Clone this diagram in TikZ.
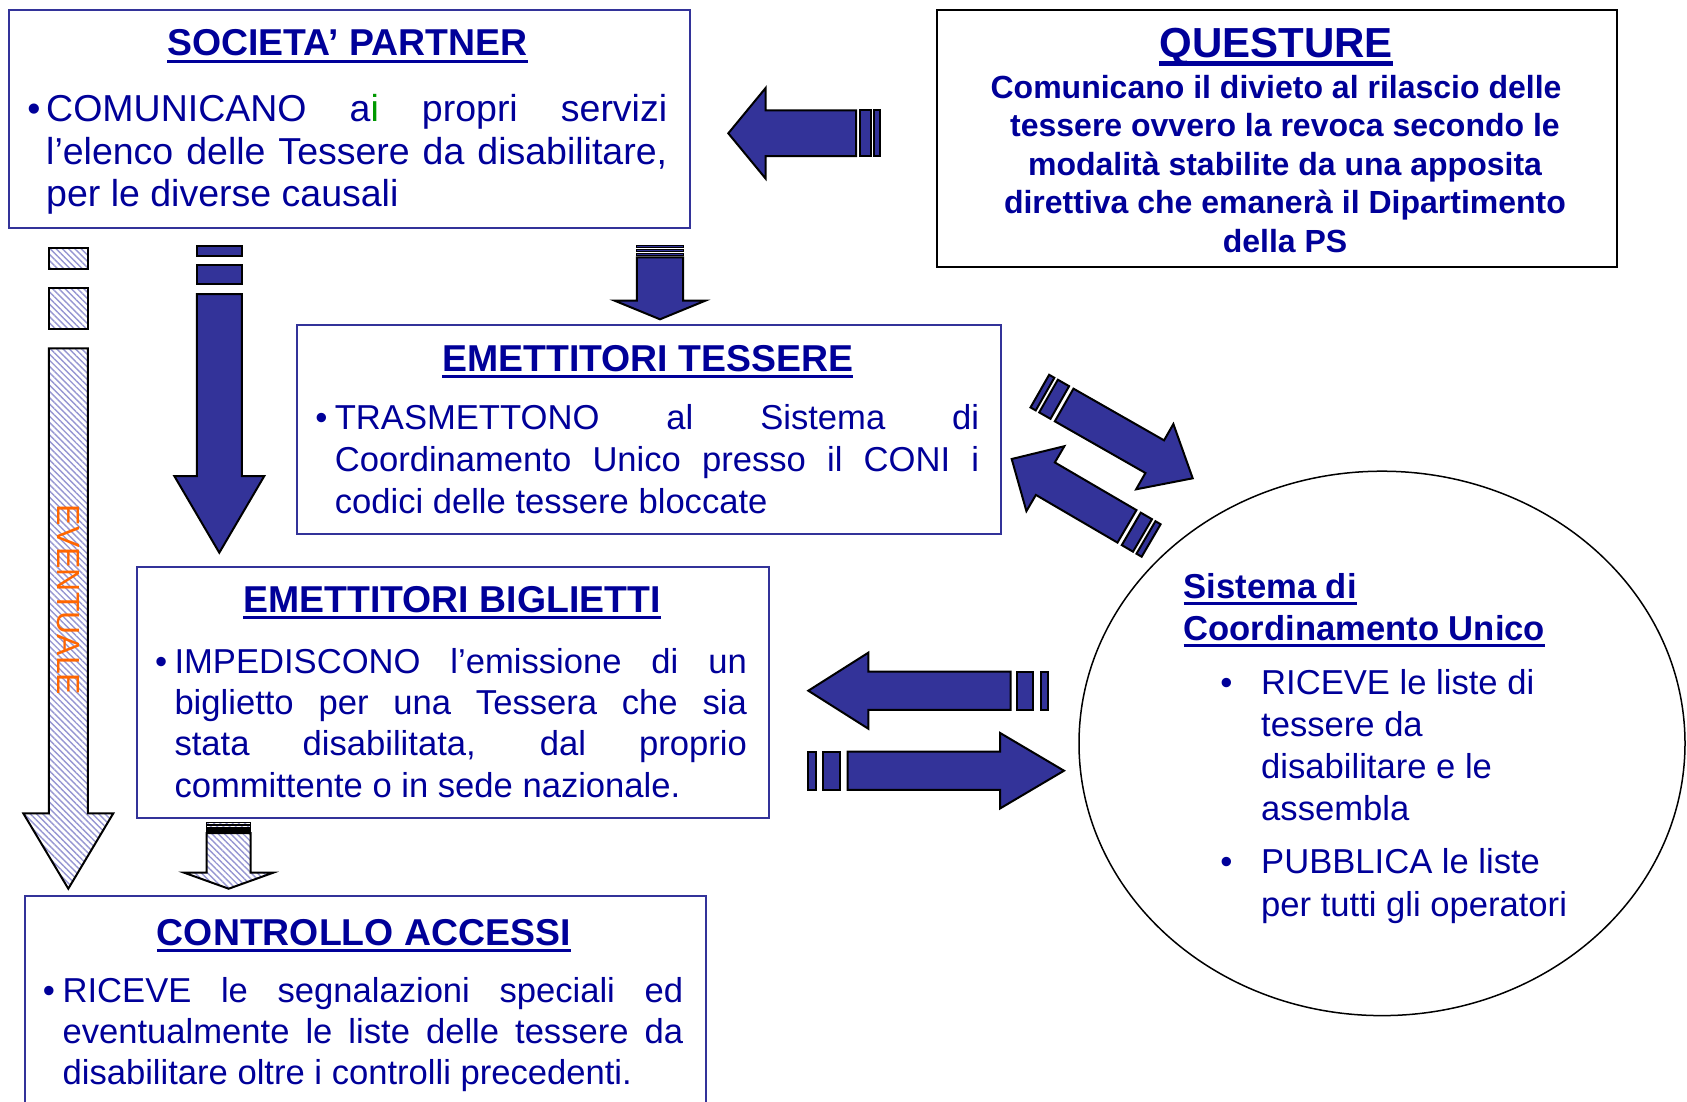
\documentclass[tikz,border=0pt]{standalone}
\usepackage{fontspec}
\setmainfont{Liberation Sans}
\usetikzlibrary{patterns.meta,shapes.geometric}
\definecolor{txt}{RGB}{0,0,153}
\definecolor{boxc}{RGB}{51,51,153}
\definecolor{arrc}{RGB}{51,51,153}
\definecolor{hatchc}{RGB}{150,150,210}
\definecolor{evc}{RGB}{255,102,0}
\definecolor{grn}{RGB}{0,153,0}
\newcommand{\setfs}[2]{\fontsize{#1}{#2}\selectfont}
\newcommand{\blockarrow}[5]{\filldraw[#1] (0,0) -- (-#2,#3) -- (-#2,#4) -- ({-(#2)-(#5)},#4) -- ({-(#2)-(#5)},-#4) -- (-#2,-#4) -- (-#2,-#3) -- cycle;}
\newcommand{\arrstripe}[4]{\filldraw[#1] (-#2,-#4) rectangle ({-(#2)-(#3)},#4);}
\tikzset{
  boxline/.style={draw=boxc, line width=2pt, inner sep=0pt, anchor=north west},
  qbox/.style={draw=black, line width=2pt, inner sep=0pt, anchor=north west},
  solidarr/.style={fill=arrc, draw=black, line width=2pt, line join=miter},
  hatcharr/.style={preaction={fill=white}, pattern={Lines[angle=-45,distance=4.4pt,line width=1.4pt]}, pattern color=hatchc, draw=black, line width=2pt, line join=miter},
  thinstripe/.style={line width=1.2pt},
  ttl/.style={anchor=base, inner sep=0pt, text=txt, font=\bfseries\setfs{37.4}{44}},
  bodyA/.style={anchor=base west, inner sep=0pt, text=txt, font=\setfs{37.5}{45}},
  body/.style={anchor=base west, inner sep=0pt, text=txt, font=\setfs{34.6}{42}},
  qtxt/.style={anchor=base, inner sep=0pt, text=txt, font=\bfseries\setfs{32}{38}},
  bul/.style={anchor=base, inner sep=0pt, text=txt},
  uline/.style={draw=txt, line width=3pt},
}
\begin{document}
\begin{tikzpicture}[x=1pt,y=-1pt]
\useasboundingbox (0,0) rectangle (1687,1101);
\fill[white] (0,0) rectangle (1687,1101);
\clip (0,0) rectangle (1687,1101);

% ---------- boxes ----------
\node[boxline, minimum width=681.5pt, minimum height=218pt] (socbox) at (7.5,8.5) {};
\node[qbox, minimum width=680pt, minimum height=257pt] (quebox) at (936,8.5) {};
\node[boxline, minimum width=703.5pt, minimum height=208.5pt] (tesbox) at (296,324) {};
\node[boxline, minimum width=632.5pt, minimum height=250.5pt] (bigbox) at (135.6,566) {};
\node[boxline, minimum width=681pt, minimum height=230pt] (conbox) at (23.7,895) {};
\node[ellipse, draw=black, line width=1.5pt, minimum width=606pt, minimum height=544.4pt, inner sep=0pt] (sys) at (1382,743.4) {};

% ---------- SOCIETA' PARTNER ----------
\node[ttl] (socT) at (347.5,55) {SOCIETA’ PARTNER};
\draw[uline] ([yshift=-6pt]socT.base west) -- ([yshift=-6pt]socT.base east);
\node[bul, font=\setfs{37.5}{45}] (sb) at (34,121) {•};
\node[bodyA] (s1) at (46,121) {\makebox[621pt][s]{COMUNICANO a\textcolor{grn}{i} propri servizi}};
\node[bodyA] (s2) at (46,164) {\makebox[621pt][s]{l’elenco delle Tessere da disabilitare,}};
\node[bodyA] (s3) at (46,206) {per le diverse causali};

% ---------- QUESTURE ----------
\node[ttl, font=\bfseries\setfs{42}{48}] (queT) at (1276,57) {QUESTURE};
\draw[uline, line width=4.5pt] ([yshift=-6.5pt]queT.base west) -- ([yshift=-6.5pt]queT.base east);
\node[qtxt] (q1) at (1276,98) {Comunicano il divieto al rilascio delle};
\node[qtxt] (q2) at (1285,136.5) {tessere ovvero la revoca secondo le};
\node[qtxt] (q3) at (1285,175) {modalità stabilite da una apposita};
\node[qtxt] (q4) at (1285,213.5) {direttiva che emanerà il Dipartimento};
\node[qtxt] (q5) at (1285,252) {della PS};

% ---------- EMETTITORI TESSERE ----------
\node[ttl] (tesT) at (647.7,371) {EMETTITORI TESSERE};
\draw[uline] ([yshift=-5.5pt]tesT.base west) -- ([yshift=-5.5pt]tesT.base east);
\node[bul, font=\setfs{34.6}{42}] (tb) at (321.5,429.5) {•};
\node[body] (t1) at (334.6,429.5) {\makebox[644.4pt][s]{TRASMETTONO al Sistema di}};
\node[body] (t2) at (334.6,471.5) {\makebox[644.4pt][s]{Coordinamento Unico presso il CONI i}};
\node[body] (t3) at (334.6,513.5) {codici delle tessere bloccate};

% ---------- EMETTITORI BIGLIETTI ----------
\node[ttl] (bigT) at (452,612) {EMETTITORI BIGLIETTI};
\draw[uline] ([yshift=-5.5pt]bigT.base west) -- ([yshift=-5.5pt]bigT.base east);
\node[bul, font=\setfs{34.6}{42}] (bb) at (161.3,673) {•};
\node[body] (b1) at (174.3,673) {\makebox[572.4pt][s]{IMPEDISCONO l’emissione di un}};
\node[body] (b2) at (174.3,714.5) {\makebox[572.4pt][s]{biglietto per una Tessera che sia}};
\node[body] (b3) at (174.3,755.5) {\makebox[572.4pt][s]{stata disabilitata, dal proprio}};
\node[body] (b4) at (174.3,797) {committente o in sede nazionale.};

% ---------- CONTROLLO ACCESSI ----------
\node[ttl] (conT) at (363.7,945) {CONTROLLO ACCESSI};
\draw[uline] ([yshift=-5.5pt]conT.base west) -- ([yshift=-5.5pt]conT.base east);
\node[bul, font=\setfs{34.6}{42}] (cb) at (49,1002) {•};
\node[body] (c1) at (62.4,1002) {\makebox[620.6pt][s]{RICEVE le segnalazioni speciali ed}};
\node[body] (c2) at (62.4,1043.5) {\makebox[620.6pt][s]{eventualmente le liste delle tessere da}};
\node[body] (c3) at (62.4,1084) {disabilitare oltre i controlli precedenti.};

% ---------- Sistema di Coordinamento Unico ----------
\node[ttl, anchor=base west, font=\bfseries\setfs{34.6}{42}] (e1) at (1183.5,598.5) {Sistema di};
\draw[uline] ([yshift=-5pt]e1.base west) -- ([yshift=-5pt]e1.base east);
\node[ttl, anchor=base west, font=\bfseries\setfs{34.6}{42}] (e2) at (1183.5,640.5) {Coordinamento Unico};
\draw[uline] ([yshift=-5pt]e2.base west) -- ([yshift=-5pt]e2.base east);
\node[bul, font=\setfs{34.6}{42}] (eb1) at (1226.5,694.5) {•};
\node[body] (e3) at (1261,694.5) {RICEVE le liste di};
\node[body] (e4) at (1261,736.5) {tessere da};
\node[body] (e5) at (1261,778.5) {disabilitare e le};
\node[body] (e6) at (1261,820.5) {assembla};
\node[bul, font=\setfs{34.6}{42}] (eb2) at (1226.5,873) {•};
\node[body] (e7) at (1261,873) {PUBBLICA le liste};
\node[body] (e8) at (1261,916) {per tutti gli operatori};

% ---------- solid block arrows ----------
% QUESTURE -> SOCIETA'
\begin{scope}[shift={(728.3,133.3)},rotate=180]
\blockarrow{solidarr}{37.4}{45.4}{22.9}{90.3}
\arrstripe{solidarr}{131.7}{10.7}{22.9}
\arrstripe{solidarr}{146}{5.7}{22.9}
\end{scope}
% Sistema -> BIGLIETTI
\begin{scope}[shift={(808.3,690.7)},rotate=180]
\blockarrow{solidarr}{60}{38}{19.2}{142.4}
\arrstripe{solidarr}{209}{15.4}{19.2}
\arrstripe{solidarr}{232.4}{7.6}{19.2}
\end{scope}
% BIGLIETTI -> Sistema
\begin{scope}[shift={(1064,770.7)},rotate=0]
\blockarrow{solidarr}{64}{37.8}{19.2}{152.3}
\arrstripe{solidarr}{224}{16.7}{19.2}
\arrstripe{solidarr}{248}{8.3}{19.2}
\end{scope}
% TESSERE -> Sistema (diagonal)
\begin{scope}[shift={(1192.7,478.3)},rotate=-29.7]
\blockarrow{solidarr}{43.7}{37.6}{18.8}{104.3}
\arrstripe{solidarr}{153}{13}{18.8}
\arrstripe{solidarr}{170}{6}{18.8}
\end{scope}
% Sistema -> TESSERE (diagonal)
\begin{scope}[shift={(1011.7,459)},rotate=149.7]
\blockarrow{solidarr}{39}{37.6}{18.8}{94.5}
\arrstripe{solidarr}{138.5}{13}{18.8}
\arrstripe{solidarr}{155.5}{6}{18.8}
\end{scope}
% SOCIETA' -> BIGLIETTI
\begin{scope}[shift={(219.3,552.7)},rotate=-90]
\blockarrow{solidarr}{76.7}{45}{22.5}{182}
\arrstripe{solidarr}{268.4}{19.3}{22.5}
\arrstripe{solidarr}{297}{10}{22.5}
\end{scope}
% SOCIETA' -> TESSERE
\begin{scope}[shift={(660,319.3)},rotate=-90]
\blockarrow{solidarr}{18.6}{45.3}{23.2}{43.4}
\arrstripe{solidarr,thinstripe}{63.6}{2.4}{23.2}
\arrstripe{solidarr,thinstripe}{67.8}{2.3}{23.2}
\arrstripe{solidarr,thinstripe}{71.8}{2}{23.2}
\end{scope}

% ---------- hatched arrows ----------
% EVENTUALE arrow
\draw[hatcharr] (68.3,888.7) -- (23.3,813.3) -- (48.8,813.3) -- (48.8,348.3) -- (87.8,348.3) -- (87.8,813.3) -- (113.3,813.3) -- cycle;
\draw[hatcharr] (48.8,288.3) rectangle (87.8,329);
\draw[hatcharr] (48.8,248.3) rectangle (87.8,269);
\node[rotate=-90, text=evc, font=\setfs{32}{38}, inner sep=0pt] (ev) at (68.3,600) {EVENTUALE};
% BIGLIETTI -> CONTROLLO
\draw[hatcharr] (228.7,888.7) -- (184.2,872.7) -- (206.7,872.7) -- (206.7,833) -- (250.7,833) -- (250.7,872.7) -- (273.2,872.7) -- cycle;
\draw[hatcharr,thinstripe] (206.7,829) rectangle (250.7,831);
\draw[hatcharr,thinstripe] (206.7,825.6) rectangle (250.7,827.4);
\draw[hatcharr,thinstripe] (206.7,822.7) rectangle (250.7,824.2);
\end{tikzpicture}
\end{document}
